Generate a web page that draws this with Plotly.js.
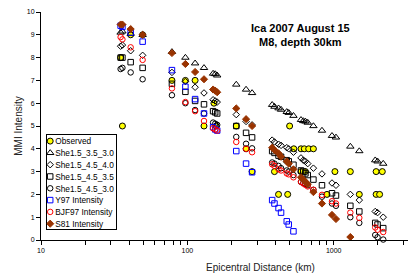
<!DOCTYPE html>
<html>
<head>
<meta charset="utf-8">
<script src="https://cdn.plot.ly/plotly-3.0.1.min.js"></script>
<style>
html,body{margin:0;padding:0;overflow:hidden;background:#fff;width:408px;height:273px;}
#chart{width:480px;height:273px;}
</style>
</head>
<body>
<div id="chart"></div>
<script>
// Station epicentral distances (km) for model predictions
const dist = [35, 36, 41, 49.5, 78.5, 97, 113, 130, 150, 155, 160, 216, 252, 277,
  380, 394, 420, 437, 478, 493, 531, 598, 620, 641, 665, 727, 832, 974, 1037, 1300, 1497, 1923, 1995, 2181];

const she35_30 = [9.1, 9.15, 9.05, 9.0, 8.25, 8.0, 7.75, 7.55, 7.3, 7.28, 7.22, 6.82, 6.6, 6.45,
  5.93, 5.85, 5.78, 5.72, 5.62, 5.58, 5.45, 5.27, 5.22, 5.2, 5.15, 5.0, 4.8, 4.57, 4.5, 4.1, 3.9, 3.5, 3.45, 3.35];
const she45_40 = [8.5, 8.55, 8.3, 8.1, 7.35, 6.95, 6.7, 6.45, 6.15, 6.1, 6.05, 5.5, 5.2, 5.05,
  4.38, 4.3, 4.2, 4.15, 4.05, 4.0, 3.85, 3.6, 3.5, 3.45, 3.35, 3.15, 2.9, 2.5, 2.4, 2.0, 1.75, 1.25, 1.2, 1.0];
const she45_35 = [8.0, 8.0, 7.8, 7.55, 6.85, 6.5, 6.1, 5.95, 5.65, 5.6, 5.55, 5.0, 4.7, 4.5,
  3.9, 3.82, 3.7, 3.65, 3.5, 3.45, 3.3, 3.05, 3.0, 2.92, 2.85, 2.65, 2.4, 2.05, 1.95, 1.5, 1.25, 0.75, 0.68, 0.52];
const she45_30 = [7.5, 7.55, 7.35, 7.05, 6.35, 6.0, 5.7, 5.55, 5.15, 5.1, 5.05, 4.52, 4.22, 4.02,
  3.4, 3.35, 3.25, 3.15, 3.05, 3.0, 2.85, 2.55, 2.5, 2.45, 2.4, 2.2, 1.9, 1.6, 1.5, 1.0, 0.75, 0.22, 0.12, 0.02];
const y97 = [9.4, 9.35, 9.1, 8.7, 7.45, 6.72, 6.18, 5.55, 4.95, 4.85, 4.8, 3.9, 3.35, 2.97,
  1.75, 1.6, 1.4, 1.2, 0.82, 0.68, 0.38, null, null, null, null, null, null, null, null, null, null, null, null, null];
const bjf97 = [8.9, 8.8, 8.45, 7.9, 6.65, 6.05, 5.65, 5.22, 4.9, 4.85, 4.8, 4.3, 4.0, 3.85,
  3.32, 3.25, 3.1, 3.05, 2.92, 2.88, 2.75, 2.55, 2.48, 2.42, 2.35, 2.2, 1.98, 1.7, 1.6, 1.2, 0.97, 0.55, 0.45, 0.35];
const s81 = [9.45, 9.45, 9.25, 9.0, 8.2, 7.72, 7.37, 7.05, 6.6, 6.55, 6.48, 5.77, 5.3, 5.0,
  4.05, 3.95, 3.8, 3.65, 3.45, 3.35, 3.1, 2.75, 2.65, 2.55, 2.45, 2.1, 1.6, 1.1, 0.92, 0.13, null, null, null, null];

// Observed intensities
const obsDist = [35, 36, 41, 49.5, 78.5, 97, 113, 130, 152, 157, 216, 252, 277,
  394, 420, 485, 500, 534, 598, 598, 630, 641, 675, 727, 900, 1020, 1300, 1497, 1950, 1950, 2060, 2150];
const obsMMI = [8, 5, 9, 9, 7, 7, 7, 5, 6, 5, 5, 4, 3,
  3, 2, 2, 5, 4, 4, 3, 4, 3, 4, 4, 2, 3, 3, 2, 3, 2, 2, 3];

const seriesNames = ['Observed', 'She1.5_3.5_3.0', 'She1.5_4.5_4.0', 'She1.5_4.5_3.5', 'She1.5_4.5_3.0',
  'Y97 Intensity', 'BJF97 Intensity', 'S81 Intensity'];
const xTicks = [10, 100, 1000];
const minorTicks = [20,30,40,50,60,70,80,90,200,300,400,500,600,700,800,900,2000,3000,4000,5000,6000,7000,8000,9000];

const FONT = 'Liberation Sans, Arial, sans-serif';

function mk(name, x, y, marker) {
  return {type: 'scatter', mode: 'markers', name: name, x: x, y: y, marker: marker, cliponaxis: false};
}

const traces = [
  mk(seriesNames[0], obsDist, obsMMI, {symbol: 'circle', size: 6, color: '#FFFF00', line: {color: '#000', width: 1}}),
  mk(seriesNames[1], dist, she35_30, {symbol: 'triangle-up-open', size: 6.5, color: '#000', line: {width: 1}}),
  mk(seriesNames[2], dist, she45_40, {symbol: 'diamond-open', size: 5, color: '#000', line: {width: 1}}),
  mk(seriesNames[3], dist, she45_35, {symbol: 'square-open', size: 5.5, color: '#000', line: {width: 1}}),
  mk(seriesNames[4], dist, she45_30, {symbol: 'circle-open', size: 5.5, color: '#000', line: {width: 1}}),
  mk(seriesNames[5], dist, y97, {symbol: 'square-open', size: 5.5, color: '#0000FF', line: {width: 1}}),
  mk(seriesNames[6], dist, bjf97, {symbol: 'circle-open', size: 5.5, color: '#FF0000', line: {width: 1}}),
  mk(seriesNames[7], dist, s81, {symbol: 'diamond', size: 5.5, color: '#993300', line: {color: '#993300', width: 1}})
];

const layout = {
  width: 480, height: 273,
  margin: {l: 41, r: 0, t: 12, b: 33, autoexpand: false},
  paper_bgcolor: '#fff', plot_bgcolor: '#fff',
  font: {family: FONT, color: '#000', size: 8},
  showlegend: true,
  legend: {
    x: 0.0107, y: 0.4636, xanchor: 'left', yanchor: 'top',
    bgcolor: '#fff', bordercolor: '#000', borderwidth: 1,
    font: {family: FONT, size: 8.3, color: '#000'},
    itemwidth: 30, tracegroupgap: 0
  },
  xaxis: {
    type: 'log', range: [1, 4], automargin: false,
    tickvals: xTicks, ticktext: xTicks.map(String),
    ticks: 'outside', ticklen: 4, tickcolor: '#000', tickwidth: 1,
    minor: {tickvals: minorTicks, ticks: 'outside', ticklen: 4, tickcolor: '#000', tickwidth: 1, showgrid: false},
    showline: true, linecolor: '#000', linewidth: 1,
    showgrid: false, zeroline: false,
    tickfont: {family: FONT, size: 7, color: '#000'},
    title: {text: 'Epicentral Distance (km)', font: {family: FONT, size: 10, color: '#222'}, standoff: 10}
  },
  yaxis: {
    range: [0, 10], dtick: 1, tick0: 0, automargin: false,
    ticks: 'outside', ticklen: 4, tickcolor: '#000', tickwidth: 1,
    showline: true, linecolor: '#000', linewidth: 1,
    showgrid: false, zeroline: false,
    tickfont: {family: FONT, size: 7, color: '#000'},
    title: {text: 'MMI Intensity', font: {family: FONT, size: 10, color: '#222'}, standoff: 2}
  },
  annotations: [{
    xref: 'paper', yref: 'paper', x: 0.59, y: 0.899, xanchor: 'center', yanchor: 'middle',
    text: '<b>Ica 2007 August 15<br>M8, depth 30km</b>', showarrow: false, align: 'center',
    font: {family: FONT, size: 11, color: '#000'}
  }]
};

Plotly.newPlot('chart', traces, layout, {staticPlot: true, displayModeBar: false, responsive: false}).then(function (gd) {
  // compact the legend to match the Excel-style legend box
  const leg = gd.querySelector('.legend');
  if (!leg) return;
  const items = leg.querySelectorAll('.traces');
  items.forEach(function (g, i) {
    g.setAttribute('transform', 'translate(0,' + (6.8 + i * 11.8) + ')');
    const t = g.querySelector('.legendtext');
    if (t) t.setAttribute('x', 9.5);
    g.querySelectorAll('.legendpoints path').forEach(function (p) {
      p.setAttribute('transform', 'translate(4.5,0)');
    });
  });
  const bg = leg.querySelector('.bg');
  if (bg) { bg.setAttribute('width', 70.5); bg.setAttribute('height', 94.5); }
});
</script>
</body>
</html>
